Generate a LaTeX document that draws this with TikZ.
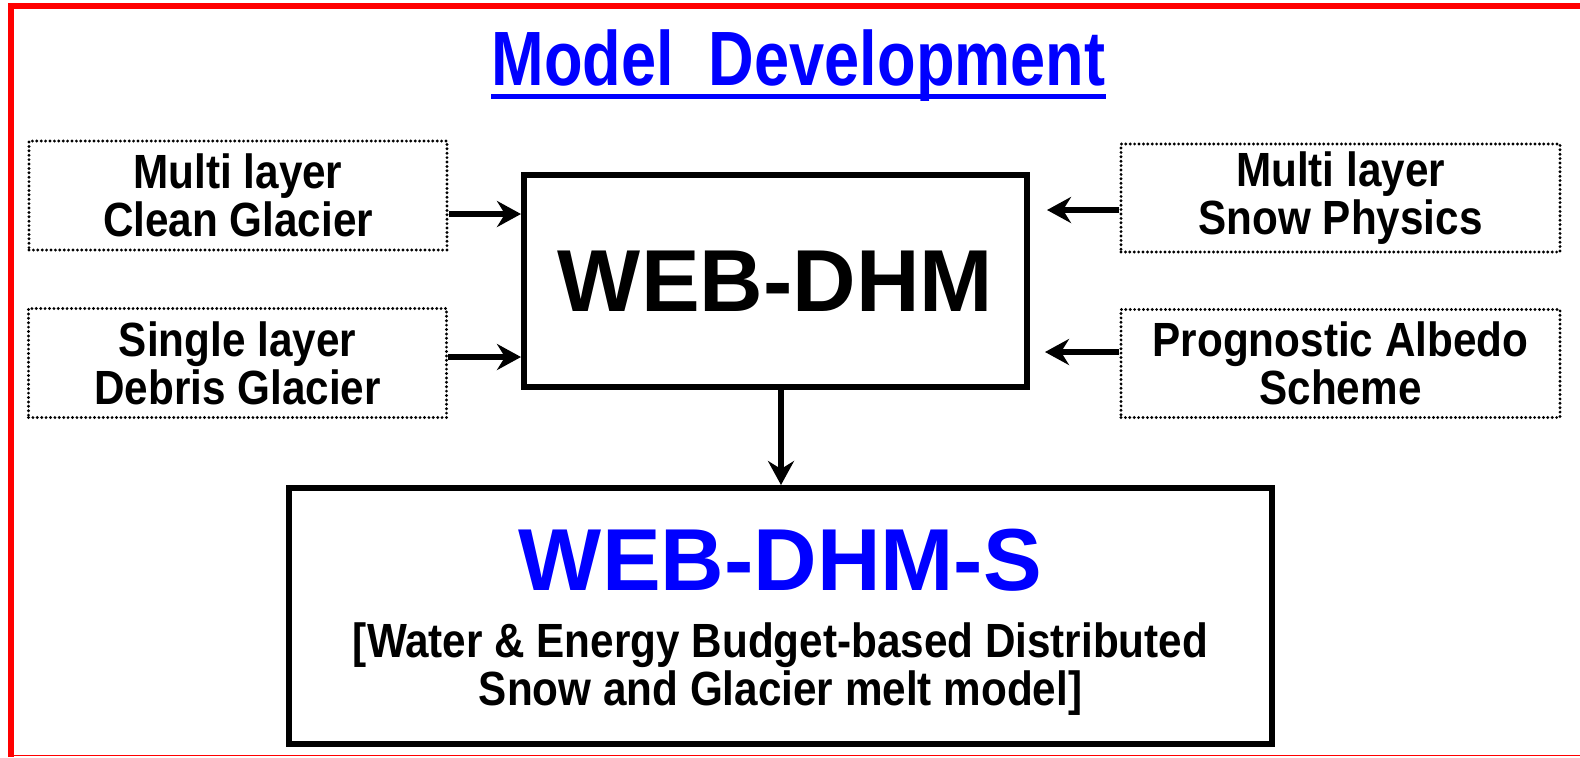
\documentclass[tikz,border=0pt]{standalone}
\usepackage{fontspec}
\setmainfont{Liberation Sans}
\newfontfamily\boxfont{Liberation Sans}[FakeStretch=0.88]
\newfontfamily\titlefont{Liberation Sans}[FakeStretch=0.82]
\usetikzlibrary{arrows.meta}
\tikzset{
    BT/.style ={align=center, inner sep=0pt, font=\boxfont\bfseries\fontsize{24}{24}\selectfont},
    DB/.style ={BT, rectangle, draw, line width=1.6pt, line cap=round, dash pattern=on 0pt off 2.2pt},
    MB/.style ={rectangle, draw, line width=3pt, inner sep=0pt},
    BIG/.style ={font=\bfseries\fontsize{44}{44}\selectfont},
    AR/.style ={-{Stealth[length=12pt,width=13pt,inset=4pt]}, line width=3pt}
}
\begin{document}
\begin{tikzpicture}[x=0.5pt,y=-0.5pt]
    \useasboundingbox (0,0) rectangle (1580,757);
    % frame
    \draw[red, line width=3pt] (11,757) -- (11,6.3) -- (1580,6.3);
    \draw[red, line width=0.8pt] (11,755.6) -- (1580,755.6);
    % title
    \node[anchor=base, inner sep=0pt, text=blue, font=\titlefont\bfseries\fontsize{38.5}{40}\selectfont] (title) at (798.5,85) {Model\ \ Development};
    \draw[blue, line width=2.5pt] ([yshift=-5.75pt]title.base west) -- ([yshift=-5.75pt]title.base east);
    % models
    \node[MB, BIG, minimum width=251.5pt, minimum height=106pt] (web) at (775.5,281) {WEB-DHM};
    \node[MB, minimum width=491.5pt, minimum height=128pt] (wds) at (780.5,616) {};
    \node[BIG, anchor=base, inner sep=0pt, text=blue] (wdsname) at (780.5,590) {WEB-DHM-S};
    \node[BT] (wdsinfo) at (780.5,669) {[Water \& Energy Budget-based Distributed\\Snow and Glacier melt model]};
    % inputs
    \node[DB, minimum width=209pt, minimum height=54.5pt] (cg) at (238,195.5) {Multi layer\\Clean Glacier};
    \node[DB, minimum width=209pt, minimum height=54.5pt] (dg) at (237.5,363) {Single layer\\Debris Glacier};
    \node[DB, minimum width=219.5pt, minimum height=54pt] (sp) at (1340.5,198) {Multi layer\\Snow Physics};
    \node[DB, minimum width=219.5pt, minimum height=54pt] (ab) at (1340.5,363.5) {Prognostic Albedo\\Scheme};
    % connectors
    \coordinate (a1) at (0,214);
    \coordinate (a2) at (0,357);
    \coordinate (a3) at (1047,210);
    \coordinate (a4) at (1045,352);
    \coordinate (a5) at (781,0);
    \draw[AR] (cg.east |- a1) -- (web.west |- a1);
    \draw[AR] (dg.east |- a2) -- (web.west |- a2);
    \draw[AR] (sp.west |- a3) -- (a3);
    \draw[AR] (ab.west |- a4) -- (a4);
    \draw[AR] (web.south -| a5) -- (wds.north -| a5);
\end{tikzpicture}
\end{document}
